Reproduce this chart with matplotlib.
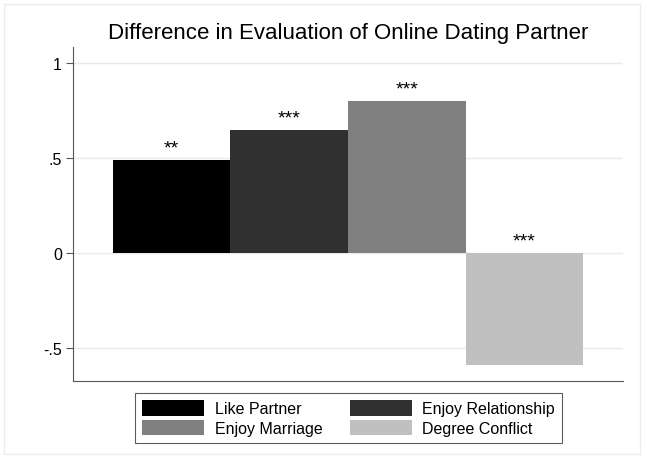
import matplotlib
matplotlib.use("Agg")
import matplotlib.pyplot as plt
from matplotlib.patches import Rectangle

categories = ["Like Partner", "Enjoy Relationship", "Enjoy Marriage", "Degree Conflict"]
values = [0.489, 0.647, 0.80, -0.589]
stars = ["**", "***", "***", "***"]
colors = ["#000000", "#303030", "#808080", "#c0c0c0"]
yticks = [-0.5, 0, 0.5, 1]
yticklabels = ["-.5", "0", ".5", "1"]

plt.rcParams['font.family'] = ['Liberation Sans', 'DejaVu Sans']

fig = plt.figure(figsize=(6.47, 4.60), dpi=100)
fig.patch.set_facecolor("white")
fig.add_artist(Rectangle((4/647, 5/460), 636/647, 450/460, transform=fig.transFigure,
                         fill=False, edgecolor="#ececec", linewidth=1))

ax = fig.add_axes([73/647, 1 - 382/460, 550/647, 334/460])
for i, (c, v, col) in enumerate(zip(categories, values, colors)):
    ax.bar(i + 0.5, v, width=1.0, color=col, label=c, zorder=2)
    ypos = v + 0.02 if v > 0 else 0.02
    ax.text(i + 0.5, ypos, stars[i], ha="center", va="bottom", fontsize=14, zorder=3)

ax.set_xlim(-0.34, 4.34)
ax.set_ylim(-0.674, 1.084)
ax.set_yticks(yticks)
ax.set_yticklabels(yticklabels, fontsize=11.5)
ax.set_xticks([])
for y in yticks:
    ax.axhline(y, color="#eaeaea", linewidth=1, zorder=1)
for s in ["top", "right"]:
    ax.spines[s].set_visible(False)
ax.spines["left"].set_color("#555555")
ax.spines["bottom"].set_color("#555555")
ax.tick_params(axis="y", length=5, color="#555555", pad=3)

fig.text(348/647, 1 - 34/460, "Difference in Evaluation of Online Dating Partner",
         ha="center", va="center", fontsize=16)

handles, labels = ax.get_legend_handles_labels()
order = [0, 2, 1, 3]
leg = fig.legend([handles[k] for k in order], [labels[k] for k in order], loc="center",
                 bbox_to_anchor=(348.5/647, 1 - 419/460),
                 ncol=2, fontsize=11.5, frameon=True, fancybox=False, edgecolor="#333333",
                 handlelength=3.9, handleheight=1.1, columnspacing=1.7, borderpad=0.45,
                 labelspacing=0.2, handletextpad=0.65)
leg.get_frame().set_linewidth(0.8)

fig.savefig("out.png", dpi=100, facecolor="white")
